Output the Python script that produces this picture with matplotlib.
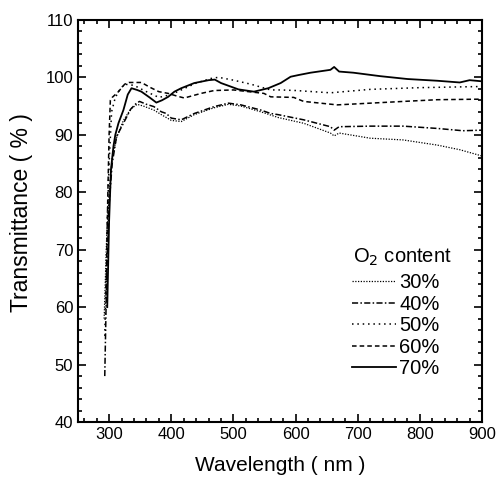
import matplotlib
matplotlib.use('Agg')
import matplotlib.pyplot as plt  # 绘图
from matplotlib.ticker import MultipleLocator

plt.rcParams['font.family'] = ['Liberation Sans', 'DejaVu Sans']

# 读图得到的透射光谱数据 (波长 nm, 透过率 %)
wl_30 = [292, 296, 300, 305, 312, 323, 335, 345, 355, 372, 384, 400, 416, 437, 469, 492, 512, 544, 572,
         613, 656, 662, 670, 720, 773, 828, 864, 900]
tr_30 = [58, 72, 80, 86, 89.5, 92.5, 94.5, 95.3, 95.0, 94.3, 93.5, 92.5, 92.3, 93.5, 94.7, 95.3, 95.0, 94.0, 93.0,
         92.0, 90.3, 89.8, 90.3, 89.4, 89.1, 88.2, 87.4, 86.3]

wl_40 = [293, 296, 300, 305, 312, 323, 335, 344, 349, 360, 372, 384, 392, 400, 416, 437, 469, 492, 512, 544,
         560, 572, 613, 656, 662, 670, 720, 773, 828, 869, 900]
tr_40 = [48, 65, 78, 85, 89.7, 92.0, 94.5, 95.5, 95.8, 95.3, 94.9, 94.0, 93.7, 92.9, 92.6, 93.7, 94.9, 95.5, 95.2, 94.3,
         93.7, 93.5, 92.6, 91.4, 90.8, 91.4, 91.5, 91.5, 91.1, 90.7, 90.8]

wl_50 = [293, 297, 300, 304, 310, 318, 325, 340, 360, 380, 400, 420, 440, 464, 476, 500, 528, 560, 576, 600,
         656, 720, 800, 900]
tr_50 = [55, 75, 85, 94, 96.5, 98.0, 98.8, 98.6, 97.5, 96.5, 97.0, 98.0, 99.0, 99.8, 100.0, 99.5, 98.8, 97.8, 97.8, 97.7,
         97.3, 97.9, 98.2, 98.4]

wl_60 = [295, 298, 300, 302, 305, 315, 325, 332, 352, 365, 380, 395, 410, 421, 448, 469, 500, 549, 560, 597,
         613, 667, 720, 773, 828, 900]
tr_60 = [62, 80, 90, 96, 96.5, 97.5, 98.8, 99.1, 99.1, 98.3, 97.5, 97.2, 96.7, 96.4, 97.2, 97.7, 97.8, 97.2, 96.6, 96.5,
         95.8, 95.2, 95.5, 95.8, 96.1, 96.2]

wl_70 = [297, 300, 303, 307, 310, 315, 323, 330, 336, 345, 352, 365, 376, 385, 395, 405, 416, 437, 460, 470,
         480, 508, 533, 556, 576, 592, 605, 624, 656, 662, 670, 693, 736, 780, 828, 864, 880, 900]
tr_70 = [60, 75, 84, 88, 90, 92, 94.3, 97.0, 98.1, 97.8, 97.5, 96.5, 95.6, 96.0, 96.6, 97.5, 98.1, 99.0, 99.5, 99.6,
         99.0, 97.9, 97.5, 98.1, 99.0, 100.1, 100.4, 100.8, 101.3, 101.8, 101.0, 100.8, 100.2, 99.7, 99.4, 99.1, 99.5, 99.3]

labels = ['30%', '40%', '50%', '60%', '70%']

fig = plt.figure(figsize=(4.97, 4.84), dpi=100)
ax = fig.add_axes([0.157, 0.128, 0.813, 0.831])

## 五条曲线
ax.plot(wl_30, tr_30, color='k', lw=0.9, linestyle=(0, (1, 1.2)), label=labels[0])
ax.plot(wl_40, tr_40, color='k', lw=1.1, linestyle=(0, (4, 1.5, 1, 1.5)), label=labels[1])
ax.plot(wl_50, tr_50, color='k', lw=1.1, linestyle=(0, (1, 2.5)), label=labels[2])
ax.plot(wl_60, tr_60, color='k', lw=1.1, linestyle=(0, (3, 2)), label=labels[3])
ax.plot(wl_70, tr_70, color='k', lw=1.3, linestyle='-', label=labels[4])

## 坐标轴
ax.set_xlim(250, 900)
ax.set_ylim(40, 110)
ax.xaxis.set_major_locator(MultipleLocator(100))
ax.xaxis.set_minor_locator(MultipleLocator(20))
ax.yaxis.set_major_locator(MultipleLocator(10))
ax.yaxis.set_minor_locator(MultipleLocator(2))
ax.tick_params(which='both', direction='in', top=True, right=True, labelsize=12, width=1.2)
ax.tick_params(which='major', length=6)
ax.tick_params(which='minor', length=3)
for s in ax.spines.values():
    s.set_linewidth(1.5)
ax.set_xlabel('Wavelength ( nm )', fontsize=15, labelpad=10)
ax.set_ylabel('Transmittance ( % )', fontsize=16.5)
ax.yaxis.set_label_coords(-0.112, 0.52)

## 图例 (标题单独写)
ax.text(0.681, 0.409, 'O$_2$ content', transform=ax.transAxes, fontsize=14.5, ha='left', va='center')
leg = ax.legend(loc='upper left', bbox_to_anchor=(0.633, 0.415), frameon=False,
                fontsize=14.5, handlelength=2.2, handletextpad=0.15, labelspacing=0.125)

fig.savefig('out.png', dpi=100)
